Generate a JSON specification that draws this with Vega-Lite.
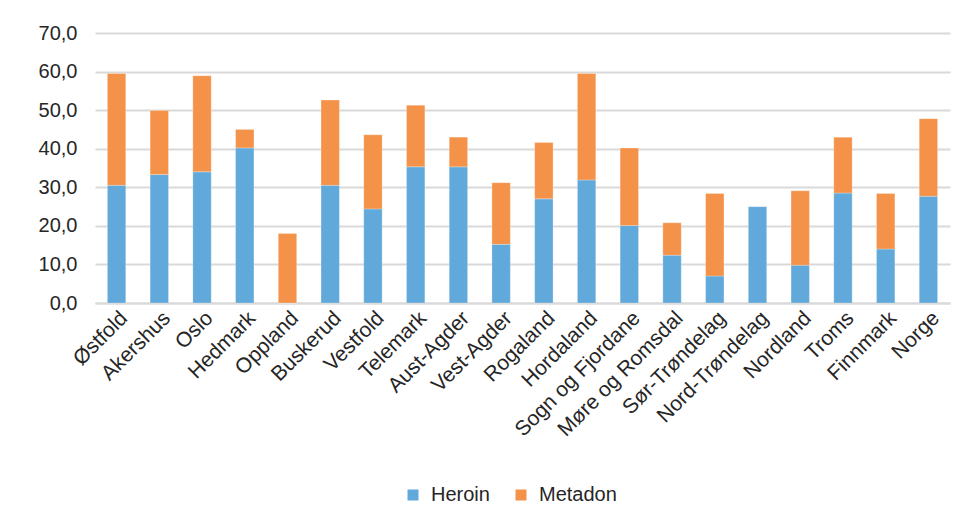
{
  "$schema": "https://vega.github.io/schema/vega-lite/v6.json",
  "width": 855,
  "height": 270,
  "autosize": "none",
  "padding": {"left": 95, "top": 33, "right": 16, "bottom": 209},
  "background": "white",
  "config": {
    "font": "Liberation Sans",
    "view": {"stroke": null},
    "axis": {"labelColor": "#262626", "labelFont": "Liberation Sans"},
    "legend": {"labelColor": "#262626", "labelFont": "Liberation Sans"}
  },
  "data": {
    "values": [
      {"fylke": "Østfold", "type": "Heroin", "verdi": 30.5},
      {"fylke": "Østfold", "type": "Metadon", "verdi": 29.0},
      {"fylke": "Akershus", "type": "Heroin", "verdi": 33.3},
      {"fylke": "Akershus", "type": "Metadon", "verdi": 16.6},
      {"fylke": "Oslo", "type": "Heroin", "verdi": 34.0},
      {"fylke": "Oslo", "type": "Metadon", "verdi": 24.9},
      {"fylke": "Hedmark", "type": "Heroin", "verdi": 40.2},
      {"fylke": "Hedmark", "type": "Metadon", "verdi": 4.8},
      {"fylke": "Oppland", "type": "Heroin", "verdi": 0},
      {"fylke": "Oppland", "type": "Metadon", "verdi": 18.0},
      {"fylke": "Buskerud", "type": "Heroin", "verdi": 30.5},
      {"fylke": "Buskerud", "type": "Metadon", "verdi": 22.1},
      {"fylke": "Vestfold", "type": "Heroin", "verdi": 24.4},
      {"fylke": "Vestfold", "type": "Metadon", "verdi": 19.2},
      {"fylke": "Telemark", "type": "Heroin", "verdi": 35.3},
      {"fylke": "Telemark", "type": "Metadon", "verdi": 16.0},
      {"fylke": "Aust-Agder", "type": "Heroin", "verdi": 35.3},
      {"fylke": "Aust-Agder", "type": "Metadon", "verdi": 7.7},
      {"fylke": "Vest-Agder", "type": "Heroin", "verdi": 15.2},
      {"fylke": "Vest-Agder", "type": "Metadon", "verdi": 16.0},
      {"fylke": "Rogaland", "type": "Heroin", "verdi": 27.0},
      {"fylke": "Rogaland", "type": "Metadon", "verdi": 14.6},
      {"fylke": "Hordaland", "type": "Heroin", "verdi": 31.9},
      {"fylke": "Hordaland", "type": "Metadon", "verdi": 27.6},
      {"fylke": "Sogn og Fjordane", "type": "Heroin", "verdi": 20.1},
      {"fylke": "Sogn og Fjordane", "type": "Metadon", "verdi": 20.1},
      {"fylke": "Møre og Romsdal", "type": "Heroin", "verdi": 12.4},
      {"fylke": "Møre og Romsdal", "type": "Metadon", "verdi": 8.4},
      {"fylke": "Sør-Trøndelag", "type": "Heroin", "verdi": 7.0},
      {"fylke": "Sør-Trøndelag", "type": "Metadon", "verdi": 21.4},
      {"fylke": "Nord-Trøndelag", "type": "Heroin", "verdi": 25.0},
      {"fylke": "Nord-Trøndelag", "type": "Metadon", "verdi": 0},
      {"fylke": "Nordland", "type": "Heroin", "verdi": 9.8},
      {"fylke": "Nordland", "type": "Metadon", "verdi": 19.3},
      {"fylke": "Troms", "type": "Heroin", "verdi": 28.5},
      {"fylke": "Troms", "type": "Metadon", "verdi": 14.5},
      {"fylke": "Finnmark", "type": "Heroin", "verdi": 14.0},
      {"fylke": "Finnmark", "type": "Metadon", "verdi": 14.4},
      {"fylke": "Norge", "type": "Heroin", "verdi": 27.7},
      {"fylke": "Norge", "type": "Metadon", "verdi": 20.1}
    ]
  },
  "mark": {"type": "bar", "stroke": "white", "strokeOpacity": 0.5, "strokeWidth": 0.5},
  "encoding": {
    "x": {
      "field": "fylke",
      "type": "nominal",
      "sort": null,
      "scale": {"paddingInner": 0.57, "paddingOuter": 0.29},
      "axis": {
        "title": null,
        "labelAngle": -45,
        "labelFontSize": 21,
        "labelPadding": 4,
        "ticks": false,
        "domain": true,
        "domainColor": "#d9d9d9",
        "domainWidth": 2
      }
    },
    "y": {
      "field": "verdi",
      "type": "quantitative",
      "stack": "zero",
      "scale": {"domain": [0, 70], "nice": false},
      "axis": {
        "title": null,
        "values": [0, 10, 20, 30, 40, 50, 60, 70],
        "labelExpr": "replace(format(datum.value, '.1f'), '.', ',')",
        "labelFontSize": 20,
        "labelPadding": 18,
        "ticks": false,
        "domain": false,
        "gridColor": "#d9d9d9",
        "gridWidth": 2
      }
    },
    "order": {"field": "type", "sort": "ascending"},
    "color": {
      "field": "type",
      "type": "nominal",
      "scale": {"domain": ["Heroin", "Metadon"], "range": ["#61a9da", "#f49249"]},
      "legend": {
        "title": null,
        "orient": "none",
        "direction": "horizontal",
        "legendX": 308,
        "legendY": 452,
        "symbolType": "square",
        "symbolSize": 121,
        "symbolStrokeWidth": 0,
        "labelFontSize": 20,
        "labelOffset": 8,
        "columnPadding": 21
      }
    }
  }
}
